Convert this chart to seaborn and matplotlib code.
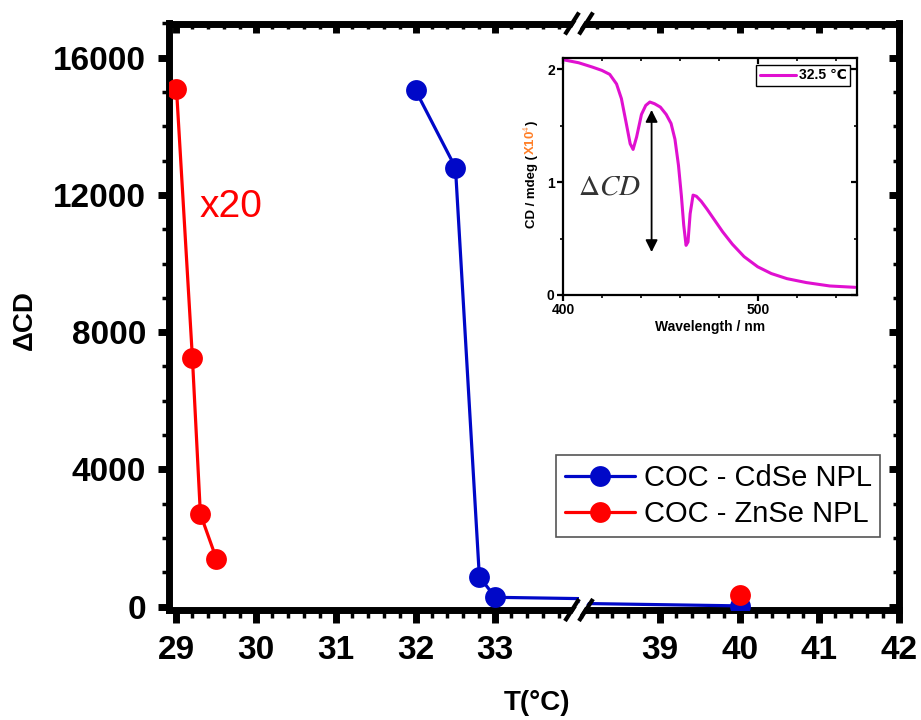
import matplotlib
matplotlib.use("Agg")
import matplotlib.pyplot as plt
import seaborn as sns
from matplotlib.lines import Line2D
from matplotlib.ticker import MultipleLocator, FixedLocator, NullFormatter

sns.set_theme(style="white")
plt.rcParams["font.family"] = ["Liberation Sans", "DejaVu Sans"]
plt.rcParams["mathtext.fontset"] = "stix"
plt.rcParams.update({
    "text.color": "black",
    "axes.labelcolor": "black",
    "xtick.color": "black",
    "ytick.color": "black",
    "axes.edgecolor": "black",
})

# ---- data -------------------------------------------------------------
cdse_T = [32.0, 32.5, 32.8, 33.0, 40.0]
cdse_dcd = [15050, 12800, 870, 270, 20]

znse_T = [29.0, 29.2, 29.3, 29.5]
znse_dcd = [15100, 7250, 2700, 1400]
znse_T_hot = [40.0]
znse_dcd_hot = [330]

series_labels = ["COC - CdSe NPL", "COC - ZnSe NPL"]

wavelength = [400, 408, 415, 420, 424, 427.5, 430, 432.5, 434.5, 436, 437.8,
              440.3, 442.5, 444.6, 447, 450, 453, 455.5, 457.5, 459.3, 460.8,
              462, 463.2, 464.2, 465.3, 466.8, 468.5, 471, 474, 478, 482, 487,
              493, 500, 507, 515, 525, 537, 550]
cd_spectrum = [2.085, 2.058, 2.02, 1.99, 1.955, 1.87, 1.74, 1.52, 1.34, 1.29,
               1.40, 1.60, 1.68, 1.71, 1.695, 1.665, 1.60, 1.52, 1.38, 1.15,
               0.88, 0.62, 0.44, 0.47, 0.72, 0.885, 0.875, 0.83, 0.76, 0.66,
               0.56, 0.45, 0.34, 0.25, 0.19, 0.145, 0.11, 0.08, 0.068]
spectrum_label = "32.5 \u2103"

left_xticks = [29, 30, 31, 32, 33]
right_xticks = [39, 40, 41, 42]
yticks = [0, 4000, 8000, 12000, 16000]

BLUE = "#0008C8"
RED = "#FF0000"
MAGENTA = "#E010D0"
ORANGE = "#FF7F27"

W, H = 921, 720
fig = plt.figure(figsize=(W / 100, H / 100), dpi=100)
fig.patch.set_facecolor("white")


def fx(px):
    return px / W


def fy(py):
    return 1 - py / H


x_left, x_break, x_right = 168.5, 579.0, 899.0
y_top, y_bot = 23.5, 610.0

ax1 = fig.add_axes([fx(x_left), fy(y_bot), fx(x_break - x_left), (y_bot - y_top) / H])
ax2 = fig.add_axes([fx(x_break), fy(y_bot), fx(x_right - x_break), (y_bot - y_top) / H],
                   sharey=ax1)

for ax in (ax1, ax2):
    sns.lineplot(x=cdse_T, y=cdse_dcd, ax=ax, color=BLUE, lw=2.3, marker="o",
                 markersize=15, markeredgewidth=0, legend=False, zorder=3)
    sns.lineplot(x=znse_T, y=znse_dcd, ax=ax, color=RED, lw=2.3, marker="o",
                 markersize=15, markeredgewidth=0, legend=False, zorder=3)
    sns.scatterplot(x=znse_T_hot, y=znse_dcd_hot, ax=ax, color=RED, s=15 ** 2,
                    linewidth=0, zorder=4, legend=False)
    ax.set_xlabel("")
    ax.set_ylabel("")
    ax.set_facecolor("white")
    for sp in ax.spines.values():
        sp.set_linewidth(5)
        sp.set_color("black")

ax1.set_xlim(28.9, 34.05)
ax2.set_xlim(37.98, 42.0)
ax1.set_ylim(-100, 17000)
ax1.spines["right"].set_visible(False)
ax2.spines["left"].set_visible(False)

ax1.xaxis.set_major_locator(FixedLocator(left_xticks))
ax2.xaxis.set_major_locator(FixedLocator(right_xticks))
for ax in (ax1, ax2):
    ax.xaxis.set_minor_locator(MultipleLocator(0.2))
ax1.yaxis.set_major_locator(FixedLocator(yticks))
ax1.yaxis.set_minor_locator(MultipleLocator(1000))

tick_font = dict(labelsize=24, labelcolor="black")
for ax in (ax1, ax2):
    ax.tick_params(axis="x", which="major", direction="out", length=9, width=5,
                   bottom=True, top=False, pad=9, **tick_font)
    ax.tick_params(axis="x", which="minor", direction="out", length=5.5, width=2.5,
                   bottom=True, top=False)
ax1.tick_params(axis="y", which="major", direction="out", length=8, width=5,
                left=True, right=False, pad=8, **tick_font)
ax1.tick_params(axis="y", which="minor", direction="out", length=5, width=2.5,
                left=True, right=False)
ax2.tick_params(axis="y", which="both", left=False, right=False, labelleft=False)
for ax in (ax1, ax2):
    for lab in ax.get_xticklabels() + ax.get_yticklabels():
        lab.set_fontweight("bold")


def inner_ticks(ax, side, major, minor_step, maj_len, maj_w, min_len, min_w):
    if side == "top":
        sec = ax.secondary_xaxis("top")
        sec.set_xticks(major)
        axis = sec.xaxis
    else:
        sec = ax.secondary_yaxis("right")
        sec.set_yticks(major)
        axis = sec.yaxis
    axis.set_minor_locator(MultipleLocator(minor_step))
    axis.set_major_formatter(NullFormatter())
    sec.tick_params(which="major", direction="in", length=maj_len, width=maj_w)
    sec.tick_params(which="minor", direction="in", length=min_len, width=min_w)
    for sp in sec.spines.values():
        sp.set_visible(False)
    return sec


inner_ticks(ax1, "top", left_xticks, 0.2, 7, 5, 4, 2.5)
inner_ticks(ax2, "top", right_xticks, 0.2, 7, 5, 4, 2.5)
inner_ticks(ax2, "right", yticks, 1000, 7, 5, 4, 2.5)

# axis-break marks on the top and bottom spines
for yc in (y_top, y_bot):
    fig.add_artist(Line2D([fx(x_break - 7), fx(x_break + 7)], [fy(yc + 11), fy(yc - 11)],
                          transform=fig.transFigure, color="white", lw=5,
                          solid_capstyle="butt", zorder=20))
    for xc in (x_break - 7, x_break + 7):
        fig.add_artist(Line2D([fx(xc - 7), fx(xc + 7)], [fy(yc + 11), fy(yc - 11)],
                              transform=fig.transFigure, color="black", lw=3,
                              solid_capstyle="butt", zorder=21))

ax1.text(29.29, 11650, "x20", color=RED, fontsize=28, ha="left", va="center")

fig.text(fx(25), fy(320), "\u0394CD", rotation=90, ha="center", va="center",
         fontsize=20, fontweight="bold", color="black")
fig.text(fx(537), fy(703), "T(\u00b0C)", ha="center", va="center",
         fontsize=20, fontweight="bold", color="black")

handles = [
    Line2D([], [], color=BLUE, lw=2.3, marker="o", markersize=15, markeredgewidth=0),
    Line2D([], [], color=RED, lw=2.3, marker="o", markersize=15, markeredgewidth=0),
]
leg = fig.legend(handles, series_labels, loc="upper left",
                 bbox_to_anchor=(fx(556), fy(455)), fontsize=21, numpoints=1,
                 handlelength=2.4, handletextpad=0.3, labelspacing=0.3,
                 borderpad=0.3, borderaxespad=0, frameon=True, fancybox=False,
                 framealpha=1, edgecolor="#555555", labelcolor="black")
leg.get_frame().set_linewidth(1.2)

# ---- inset: CD spectrum ---------------------------------------------
in_l, in_r, in_t, in_b = 563, 857, 58, 295
ax_in = fig.add_axes([fx(in_l), fy(in_b), fx(in_r - in_l), (in_b - in_t) / H])
sns.lineplot(x=wavelength, y=cd_spectrum, ax=ax_in, color=MAGENTA, lw=2.2,
             label=spectrum_label, sort=False)
ax_in.set_xlim(400, 551)
ax_in.set_ylim(0, 2.1)
ax_in.set_facecolor("white")
for sp in ax_in.spines.values():
    sp.set_linewidth(1.6)
    sp.set_color("black")
ax_in.xaxis.set_major_locator(FixedLocator([400, 500]))
ax_in.xaxis.set_minor_locator(MultipleLocator(20))
ax_in.yaxis.set_major_locator(FixedLocator([0, 1, 2]))
ax_in.yaxis.set_minor_locator(MultipleLocator(0.5))
ax_in.tick_params(which="major", direction="out", length=4, width=1.6,
                  bottom=True, left=True, top=False, right=False, labelsize=10,
                  pad=2, labelcolor="black")
ax_in.tick_params(which="minor", direction="out", length=2.5, width=1.2,
                  bottom=True, left=True, top=False, right=False)
for lab in ax_in.get_xticklabels() + ax_in.get_yticklabels():
    lab.set_fontweight("bold")
inner_ticks(ax_in, "top", [400, 500], 20, 4, 1.6, 2.5, 1.2)
inner_ticks(ax_in, "right", [0, 1, 2], 0.5, 4, 1.6, 2.5, 1.2)

ax_in.set_xlabel("Wavelength / nm", fontsize=10, fontweight="bold", labelpad=2,
                 color="black")
ax_in.set_ylabel("")

yl1 = fig.text(fx(532), fy(228), "CD / mdeg (", rotation=90, ha="center",
               va="bottom", fontsize=9.5, fontweight="bold", color="black")
yl2 = ax_in.annotate("X10$^{4}$", xy=(1, 1), xycoords=yl1, rotation=90, ha="right",
                     va="bottom", fontsize=9.5, fontweight="bold", color=ORANGE)
ax_in.annotate(")", xy=(1, 1), xycoords=yl2, rotation=90, ha="right",
               va="bottom", fontsize=9.5, fontweight="bold", color="black")

ax_in.annotate("", xy=(445.5, 1.64), xytext=(445.5, 0.38),
               arrowprops=dict(arrowstyle="<|-|>", color="black", lw=1.3,
                               mutation_scale=18, shrinkA=0, shrinkB=0))
ax_in.text(423.6, 0.965, r"$\Delta CD$", fontsize=21, color="#333333",
           ha="center", va="center")

leg_in = ax_in.legend(loc="upper right", frameon=True, fancybox=False,
                      framealpha=1, edgecolor="black", handlelength=2.6,
                      handletextpad=0.2, borderpad=0.25, borderaxespad=0.5,
                      prop=dict(weight="bold", size=10), labelcolor="black")
leg_in.get_frame().set_linewidth(1.0)

fig.savefig("out.png", dpi=100, facecolor="white")
